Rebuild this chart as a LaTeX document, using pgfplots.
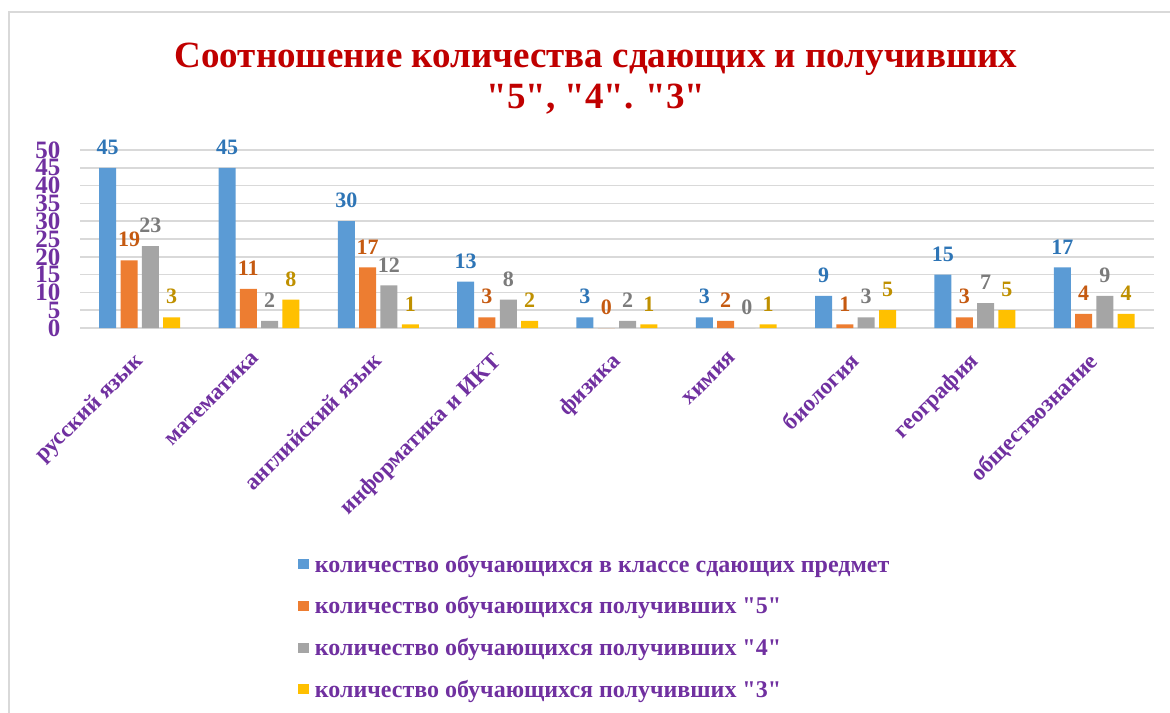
\documentclass[border=0pt]{standalone}
\usepackage{pgfplots}
\pgfplotsset{compat=1.18}
\usepackage{fontspec}
\setmainfont{Liberation Serif}[Ligatures=TeXOff]
\definecolor{cBlue}{HTML}{5B9BD5}
\definecolor{cOrange}{HTML}{ED7D31}
\definecolor{cGray}{HTML}{A5A5A5}
\definecolor{cGold}{HTML}{FFC000}
\definecolor{lBlue}{HTML}{2E75B6}
\definecolor{lOrange}{HTML}{C55A11}
\definecolor{lGray}{HTML}{7B7B7B}
\definecolor{lGold}{HTML}{BF9000}
\definecolor{cPurple}{HTML}{7030A0}
\definecolor{cTitle}{HTML}{C00000}
\definecolor{cGrid}{HTML}{D9D9D9}
\begin{document}
\begin{tikzpicture}
\path[use as bounding box] (0,0) rectangle (1170bp,-713bp);
\draw[cGrid, line width=1.5bp] (9bp,-713bp) -- (9bp,-12bp) -- (1170bp,-12bp);
\node[align=center, font=\fontsize{37bp}{41bp}\selectfont\bfseries, text=cTitle] at (596bp,-79bp)
 {Соотношение количества сдающих и получивших\\"5", "4". "3"};
\begin{axis}[
  at={(80bp,-328bp)}, anchor=south west,
  scale only axis, width=1074bp, height=178bp,
  ybar=4.3bp, bar width=17bp,
  xmin=-0.5, xmax=8.5, ymin=0, ymax=50,
  xtick={0,...,8},
  xticklabels={русский язык, математика, английский язык, информатика и ИКТ, физика, химия, биология, география, обществознание},
  xticklabel style={xshift=-7bp, yshift=-23bp, rotate=45, anchor=north east, inner sep=0pt, font=\fontsize{23bp}{25bp}\selectfont\bfseries, text=cPurple},
  ytick={0,5,...,50},
  yticklabel style={font=\fontsize{25bp}{25bp}\selectfont\bfseries, text=cPurple, xshift=-16bp},
  /pgf/number format/assume math mode=true,
  ymajorgrids, major grid style={cGrid, line width=1.5bp},
  axis line style={draw=none},
  major tick length=0pt,
  nodes near coords,
  every node near coord/.append style={font=\fontsize{22bp}{22bp}\selectfont\bfseries, anchor=south, inner sep=0pt, yshift=13bp},
  legend style={at={(0.2,-1.252)}, anchor=north west, draw=none, fill=none,
    font=\fontsize{24bp}{26bp}\selectfont\bfseries, text=cPurple, row sep=19bp,
    legend cell align=left},
  legend image code/.code={\fill[#1,draw=none] (0bp,-5bp) rectangle (11bp,5bp); \path (15bp,0bp);},
]
\addplot[fill=cBlue, draw=none, every node near coord/.append style={text=lBlue}] coordinates {(0,45) (1,45) (2,30) (3,13) (4,3) (5,3) (6,9) (7,15) (8,17)};
\addplot[fill=cOrange, draw=none, every node near coord/.append style={text=lOrange}] coordinates {(0,19) (1,11) (2,17) (3,3) (4,0) (5,2) (6,1) (7,3) (8,4)};
\addplot[fill=cGray, draw=none, every node near coord/.append style={text=lGray}] coordinates {(0,23) (1,2) (2,12) (3,8) (4,2) (5,0) (6,3) (7,7) (8,9)};
\addplot[fill=cGold, draw=none, every node near coord/.append style={text=lGold}] coordinates {(0,3) (1,8) (2,1) (3,2) (4,1) (5,1) (6,5) (7,5) (8,4)};
\legend{количество обучающихся в классе сдающих предмет, количество обучающихся получивших "5", количество обучающихся получивших "4", количество обучающихся получивших "3"}
\end{axis}
\end{tikzpicture}
\end{document}
